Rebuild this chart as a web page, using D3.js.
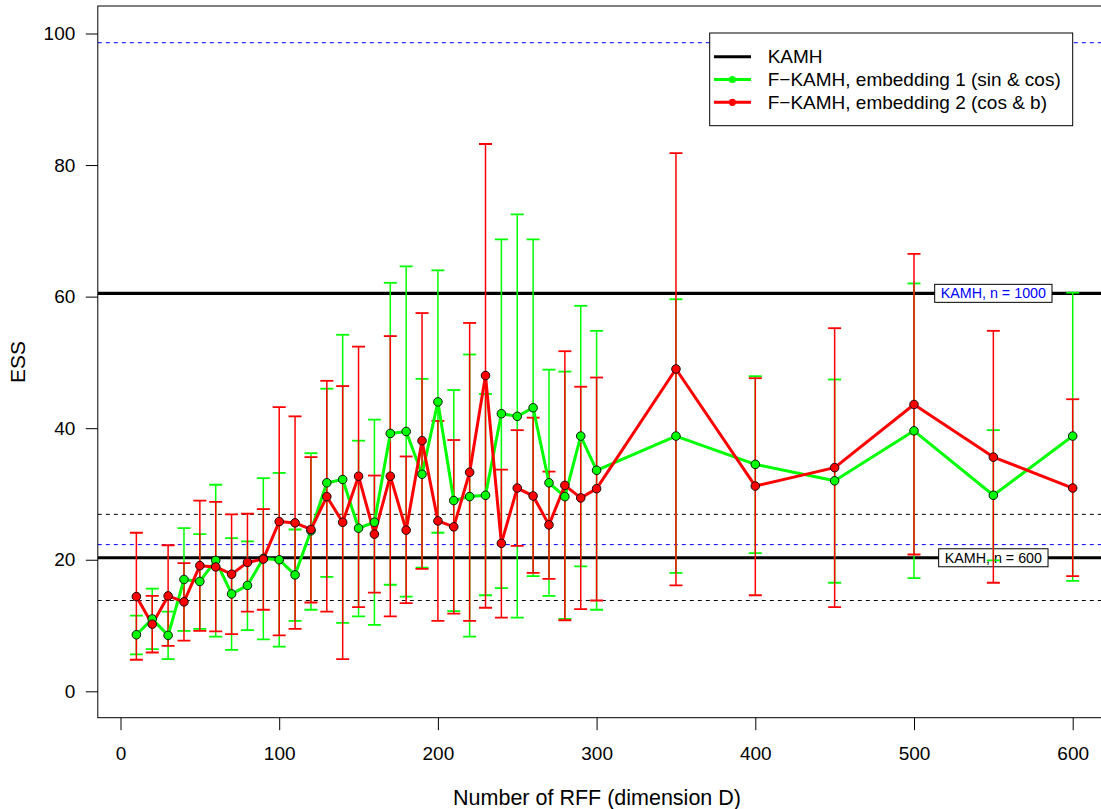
<!DOCTYPE html>
<html>
<head>
<meta charset="utf-8">
<script src="https://cdn.jsdelivr.net/npm/d3@7/dist/d3.min.js"></script>
<style>
  html, body { margin: 0; padding: 0; background: #fff; }
  svg { display: block; font-family: "Liberation Sans", Arial, Helvetica, sans-serif; }
</style>
</head>
<body>
<svg id="chart" width="1101" height="809"></svg>
<script>
// Number of random Fourier features
const dims = [10, 20, 30, 40, 50, 60, 70, 80, 90, 100,
              110, 120, 130, 140, 150, 160, 170, 180, 190, 200,
              210, 220, 230, 240, 250, 260, 270, 280, 290, 300,
              350, 400, 450, 500, 550, 600];

// F-KAMH, embedding 1 (sin & cos): mean ESS and interval bounds
const emb1Mean = [8.6, 11.0, 8.5, 17.0, 16.7, 19.9, 14.8, 16.1, 20.2, 20.0,
                  17.7, 24.4, 31.7, 32.2, 24.8, 25.7, 39.2, 39.5, 33.0, 44.0,
                  29.0, 29.6, 29.8, 42.2, 41.8, 43.1, 31.7, 29.6, 38.8, 33.6,
                  38.8, 34.5, 32.0, 39.6, 29.8, 38.8];
const emb1Low  = [5.6, 6.4, 4.9, 9.2, 9.5, 8.3, 6.3, 9.3, 7.9, 6.8,
                  10.7, 12.4, 17.4, 10.4, 11.4, 10.1, 16.2, 14.4, 18.8, 24.1,
                  12.2, 8.3, 14.6, 15.7, 11.2, 17.5, 14.5, 11.0, 19.0, 12.4,
                  18.0, 21.0, 16.5, 17.2, 19.9, 16.8];
const emb1High = [11.5, 15.6, 12.1, 24.8, 23.9, 31.4, 23.3, 22.8, 32.4, 33.2,
                  24.6, 36.2, 46.0, 54.2, 38.1, 41.3, 62.1, 64.6, 47.5, 64.0,
                  45.8, 51.2, 45.2, 68.7, 72.5, 68.7, 48.9, 48.6, 58.6, 54.8,
                  59.6, 47.9, 47.4, 62.0, 39.7, 60.6];

// F-KAMH, embedding 2 (cos & b): mean ESS and interval bounds
const emb2Mean = [14.4, 10.2, 14.5, 13.6, 19.1, 18.9, 17.8, 19.6, 20.1, 25.8,
                  25.6, 24.6, 29.6, 25.7, 32.7, 23.9, 32.7, 24.5, 38.1, 25.9,
                  25.0, 33.3, 48.0, 22.5, 30.9, 29.7, 25.3, 31.3, 29.4, 30.8,
                  49.0, 31.2, 34.0, 43.6, 35.6, 30.9];
const emb2Low  = [4.8, 5.9, 6.9, 7.7, 9.2, 9.1, 8.7, 12.1, 12.4, 8.5,
                  9.5, 13.5, 12.1, 4.9, 12.8, 15.0, 11.4, 13.4, 18.6, 10.7,
                  11.8, 10.7, 12.7, 11.2, 22.1, 18.0, 17.1, 10.8, 12.5, 13.8,
                  16.1, 14.6, 12.8, 20.8, 16.5, 17.5];
const emb2High = [24.1, 14.5, 22.2, 19.5, 29.0, 28.8, 26.9, 27.0, 27.7, 43.2,
                  41.8, 35.6, 47.2, 46.4, 52.4, 32.8, 54.0, 35.7, 57.5, 41.1,
                  38.2, 56.0, 83.2, 33.7, 39.7, 41.6, 33.4, 51.7, 46.3, 47.7,
                  81.8, 47.6, 55.2, 66.5, 54.8, 44.4];

// KAMH reference levels: mean ESS with lower/upper bounds
const kamhLabels = ["KAMH, n = 1000", "KAMH, n = 600"];
const kamhMean   = [60.5, 20.3];
const kamhLow    = [22.3, 13.8];
const kamhHigh   = [98.6, 26.9];
const kamhLabelAt = 550;

const xTicks = [0, 100, 200, 300, 400, 500, 600];
const yTicks = [0, 20, 40, 60, 80, 100];
const legendLabels = ["KAMH", "F\u2212KAMH, embedding 1 (sin & cos)", "F\u2212KAMH, embedding 2 (cos & b)"];

const GREEN = "#00ff00", RED = "#ff0000", BLUE = "#0000ff";
const FONT = 19;

const svg = d3.select("#chart");

// Plot frame
const frame = { left: 97.8, top: 6, right: 1112, bottom: 717.7 };

// Data scales
const x = d3.scaleLinear().domain([0, 600]).range([120.5, 1072.7]);
const y = d3.scaleLinear().domain([0, 100]).range([691.3, 33.5]);

svg.append("defs").append("clipPath").attr("id", "plotclip")
  .append("rect")
  .attr("x", frame.left).attr("y", frame.top)
  .attr("width", frame.right - frame.left).attr("height", frame.bottom - frame.top);

const plot = svg.append("g").attr("clip-path", "url(#plotclip)");

// KAMH bounds (dashed)
const kamhDashColor = [BLUE, "#000"];
kamhMean.forEach((m, i) => {
  [kamhLow[i], kamhHigh[i]].forEach(v => {
    plot.append("line")
      .attr("x1", frame.left).attr("x2", frame.right)
      .attr("y1", y(v)).attr("y2", y(v))
      .attr("stroke", kamhDashColor[i]).attr("stroke-width", 1)
      .attr("stroke-dasharray", "4,4");
  });
});

// KAMH means (solid)
kamhMean.forEach(m => {
  plot.append("line")
    .attr("x1", frame.left).attr("x2", frame.right)
    .attr("y1", y(m)).attr("y2", y(m))
    .attr("stroke", "#000").attr("stroke-width", 3.2);
});

// KAMH labels in boxes
const kamhTextColor = [BLUE, "#000"];
kamhMean.forEach((m, i) => {
  const g = plot.append("g");
  const t = g.append("text")
    .attr("x", x(kamhLabelAt)).attr("y", y(m))
    .attr("dy", "0.35em")
    .attr("text-anchor", "middle")
    .attr("font-size", 14.3)
    .attr("fill", kamhTextColor[i])
    .text(kamhLabels[i]);
  const w = t.node().getComputedTextLength() + 12;
  g.insert("rect", "text")
    .attr("x", x(kamhLabelAt) - w / 2).attr("y", y(m) - 9)
    .attr("width", w).attr("height", 18)
    .attr("fill", "#fff").attr("stroke", "#000").attr("stroke-width", 1);
});

// Build series records
function series(mean, lo, hi) {
  return dims.map((d, i) => ({ d: d, m: mean[i], lo: lo[i], hi: hi[i] }));
}
const s1 = series(emb1Mean, emb1Low, emb1High);
const s2 = series(emb2Mean, emb2Low, emb2High);

// Error bars
const CAP = 6.5;
function errorBars(data, color) {
  const g = plot.append("g").attr("stroke", color).attr("stroke-width", 1.5).attr("fill", "none");
  data.forEach(p => {
    g.append("line").attr("x1", x(p.d)).attr("x2", x(p.d)).attr("y1", y(p.lo)).attr("y2", y(p.hi));
    g.append("line").attr("x1", x(p.d) - CAP).attr("x2", x(p.d) + CAP).attr("y1", y(p.lo)).attr("y2", y(p.lo)).attr("stroke-width", 1.8);
    g.append("line").attr("x1", x(p.d) - CAP).attr("x2", x(p.d) + CAP).attr("y1", y(p.hi)).attr("y2", y(p.hi)).attr("stroke-width", 1.8);
  });
}
errorBars(s1, GREEN);
errorBars(s2, RED);

// Connecting lines
const line = d3.line().x(p => x(p.d)).y(p => y(p.m));
plot.append("path").datum(s1).attr("d", line).attr("fill", "none").attr("stroke", GREEN).attr("stroke-width", 3).attr("stroke-linejoin", "round");
plot.append("path").datum(s2).attr("d", line).attr("fill", "none").attr("stroke", RED).attr("stroke-width", 3).attr("stroke-linejoin", "round");

// Points
function points(data, color) {
  plot.append("g").selectAll("circle").data(data).join("circle")
    .attr("cx", p => x(p.d)).attr("cy", p => y(p.m)).attr("r", 4.3)
    .attr("fill", color).attr("stroke", "#000").attr("stroke-width", 0.9);
}
points(s1, GREEN);
points(s2, RED);

// Frame
svg.append("rect")
  .attr("x", frame.left).attr("y", frame.top)
  .attr("width", frame.right - frame.left).attr("height", frame.bottom - frame.top)
  .attr("fill", "none").attr("stroke", "#000").attr("stroke-width", 1);

// Axes
const xAxis = svg.append("g")
  .attr("transform", `translate(0,${frame.bottom})`)
  .call(d3.axisBottom(x).tickValues(xTicks).tickSize(12.5).tickPadding(16).tickFormat(d3.format("d")));
xAxis.select(".domain").remove();
xAxis.selectAll("text").attr("font-size", FONT).attr("font-family", null).attr("fill", "#000");
xAxis.selectAll("line").attr("stroke", "#000");

const yAxis = svg.append("g")
  .attr("transform", `translate(${frame.left},0)`)
  .call(d3.axisLeft(y).tickValues(yTicks).tickSize(12).tickPadding(10.5).tickFormat(d3.format("d")));
yAxis.select(".domain").remove();
yAxis.selectAll("text").attr("font-size", FONT).attr("font-family", null).attr("fill", "#000");
yAxis.selectAll("line").attr("stroke", "#000");

// Axis titles
svg.append("text")
  .attr("x", 597).attr("y", 805)
  .attr("text-anchor", "middle").attr("font-size", 21.5)
  .text("Number of RFF (dimension D)");
svg.append("text")
  .attr("transform", "translate(25,362) rotate(-90)")
  .attr("text-anchor", "middle").attr("font-size", 21)
  .text("ESS");

// Legend
const lg = svg.append("g");
lg.append("rect")
  .attr("x", 709.7).attr("y", 33).attr("width", 363).attr("height", 92.7)
  .attr("fill", "#fff").attr("stroke", "#000").attr("stroke-width", 1);
const legendColors = ["#000", GREEN, RED];
const legendHasPoint = [false, true, true];
legendLabels.forEach((lab, i) => {
  const cy = 56.7 + i * 22.8;
  lg.append("line").attr("x1", 714).attr("x2", 751).attr("y1", cy).attr("y2", cy)
    .attr("stroke", legendColors[i]).attr("stroke-width", 3);
  if (legendHasPoint[i]) {
    lg.append("circle").attr("cx", 732.4).attr("cy", cy).attr("r", 3.6).attr("fill", legendColors[i]);
  }
  lg.append("text").attr("x", 767.7).attr("y", cy).attr("dy", "0.35em")
    .attr("font-size", FONT).text(lab);
});
</script>
</body>
</html>
